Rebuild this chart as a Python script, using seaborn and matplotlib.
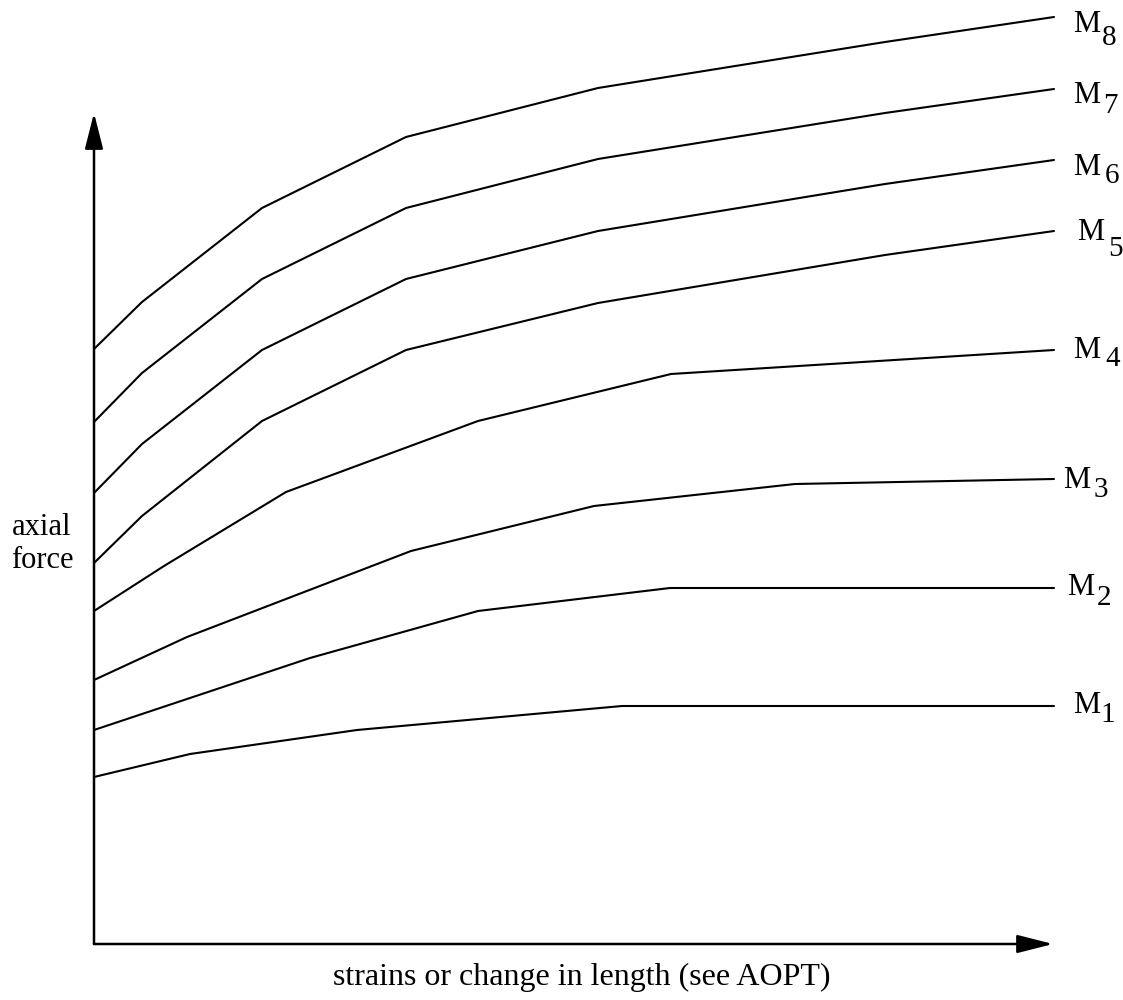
import matplotlib
matplotlib.use("Agg")
import matplotlib.pyplot as plt
import numpy as np
import pandas as pd
import seaborn as sns

# Load–deformation curves for the eight members M1..M8
# strain / change in length (x) and axial force (y), arbitrary units
strain_M1 = [0, 96, 263, 528, 794, 960]
force_M1 = [167, 190, 214, 238, 238, 238]

strain_M2 = [0, 216, 384, 576, 960]
force_M2 = [214, 286, 333, 356, 356]

strain_M3 = [0, 93, 317, 500, 701, 960]
force_M3 = [264, 307, 393, 438, 460, 465]

strain_M4 = [0, 70, 192, 384, 577, 960]
force_M4 = [333, 378, 452, 523, 570, 594]

strain_M5 = [0, 48, 168, 312, 504, 791, 960]
force_M5 = [381, 428, 523, 594, 641, 689, 713]

strain_M6 = [0, 48, 168, 312, 504, 791, 960]
force_M6 = [451, 500, 594, 665, 713, 760, 784]

strain_M7 = [0, 48, 168, 312, 504, 791, 960]
force_M7 = [522, 571, 665, 736, 785, 831, 855]

strain_M8 = [0, 48, 168, 312, 504, 791, 960]
force_M8 = [595, 642, 736, 807, 856, 902, 927]

curve_names = ["M1", "M2", "M3", "M4", "M5", "M6", "M7", "M8"]
curve_digits = ["1", "2", "3", "4", "5", "6", "7", "8"]
strains = [strain_M1, strain_M2, strain_M3, strain_M4,
           strain_M5, strain_M6, strain_M7, strain_M8]
forces = [force_M1, force_M2, force_M3, force_M4,
          force_M5, force_M6, force_M7, force_M8]

x_label = "strains or change in length (see AOPT)"
y_label_lines = ["axial", "force"]

# long-format table for seaborn
rows = []
for name, xs, ys in zip(curve_names, strains, forces):
    for i, (xv, yv) in enumerate(zip(xs, ys)):
        rows.append({"curve": name, "step": i, "strain": xv, "force": yv})
df = pd.DataFrame(rows)

sns.set_theme(style="white")
plt.rcParams["font.family"] = ["Liberation Serif", "DejaVu Serif"]

W, H, DPI = 1123, 1000, 100
fig = plt.figure(figsize=(W / DPI, H / DPI), dpi=DPI)
fig.patch.set_facecolor("white")
ax = fig.add_axes([0, 0, 1, 1])

# canvas placement of the origin (pixels from left / top)
ox, oy = 94, 944
ax.set_xlim(-ox, W - ox)
ax.set_ylim(-(H - oy), oy)
ax.axis("off")

sns.lineplot(data=df, x="strain", y="force", hue="curve",
             palette=["black"] * len(curve_names), estimator=None,
             sort=False, legend=False, linewidth=1.5, ax=ax)

# axes drawn as arrows
arrow_kw = dict(arrowstyle="-|>,head_length=1.1,head_width=0.28",
                mutation_scale=20, lw=1.8, color="black",
                shrinkA=0, shrinkB=0)
ax.annotate("", xy=(0, oy - 113), xytext=(0, 0), arrowprops=arrow_kw)
ax.annotate("", xy=(1053 - ox, 0), xytext=(0, 0), arrowprops=arrow_kw)


def px(x, y):
    """pixel layout position -> data position"""
    return x - ox, oy - y


FS = 22
# curve labels: "M" and its subscript digit, placed by baseline
label_layout = [
    # (M x, M baseline, digit x, digit baseline)
    (1073, 713, 1100, 722),
    (1067, 595, 1097, 605),
    (1063, 488, 1094, 497),
    (1073, 358, 1105, 366),
    (1077, 240, 1108, 256),
    (1073, 175, 1105, 183),
    (1073, 103, 1103, 113),
    (1073, 32, 1102, 45),
]
for digit, (mx, my, dx, dy) in zip(curve_digits, label_layout):
    ax.text(*px(mx, my), "M", fontsize=FS, ha="left", va="baseline",
            color="black")
    ax.text(*px(dx, dy), digit, fontsize=FS - 1, ha="left",
            va="baseline", color="black")

# axis titles
ax.text(*px(582, 985), x_label, fontsize=FS + 1, ha="center",
        va="baseline", color="black")
ax.text(*px(42, 535), y_label_lines[0], fontsize=FS, ha="center",
        va="baseline", color="black")
ax.text(*px(42, 568), y_label_lines[1], fontsize=FS, ha="center",
        va="baseline", color="black")

fig.savefig("out.png", dpi=DPI, facecolor="white")
